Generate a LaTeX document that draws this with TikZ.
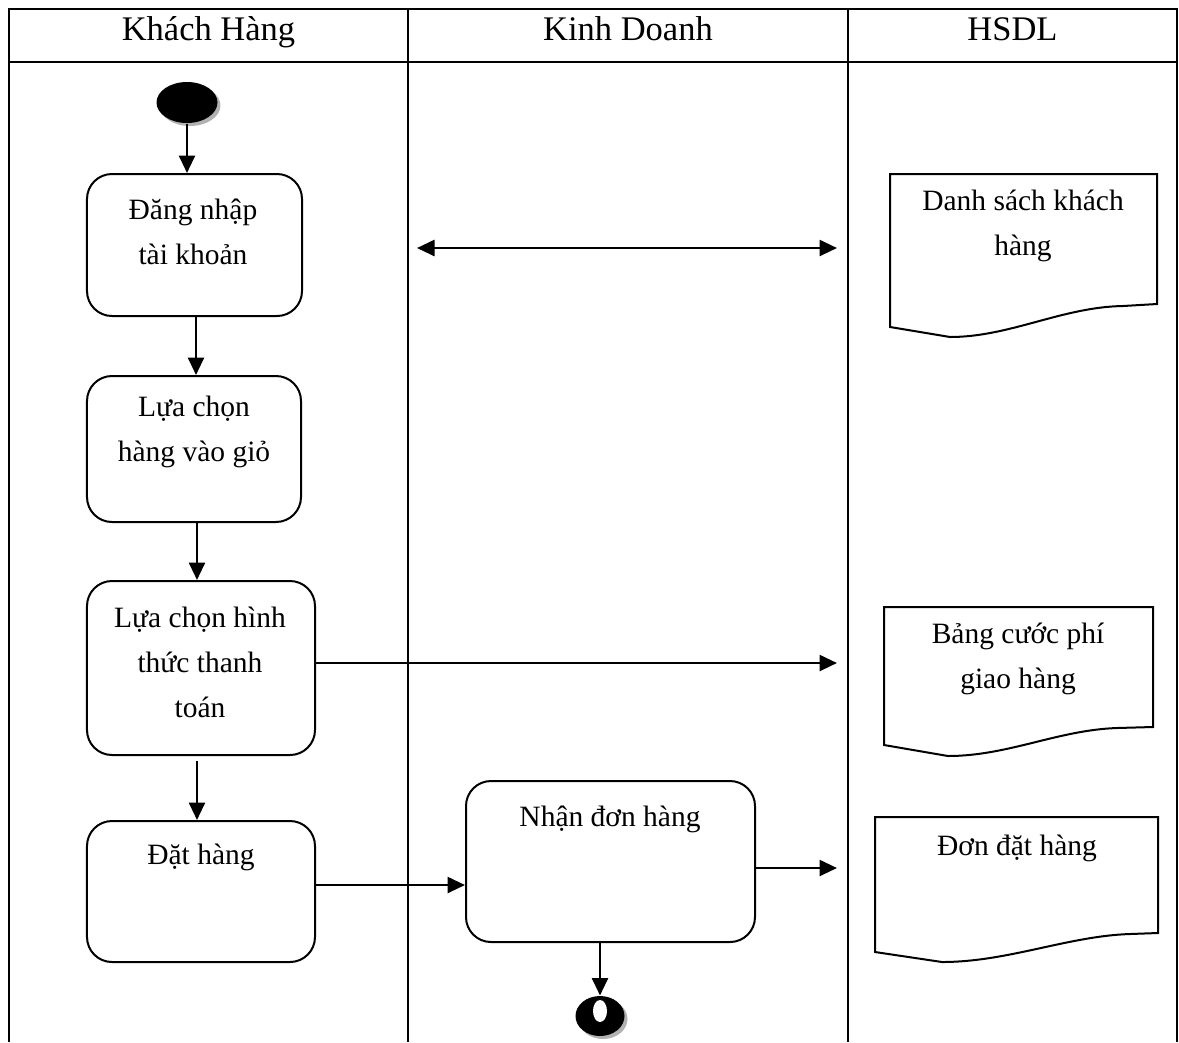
\documentclass[tikz,border=0pt]{standalone}
\usepackage{fontspec}
\setmainfont{Liberation Serif}
\usepackage{tikz}
\usetikzlibrary{arrows.meta, shapes.geometric, shadows}
\newcommand{\bodyfont}{\fontsize{11.8}{18}\selectfont}
\newcommand{\lanefont}{\fontsize{13.8}{16}\selectfont}

\begin{document}
\begin{tikzpicture}[
    x=0.4pt, y=-0.4pt,
    lane/.style={line width=0.8pt},
    head/.style={font=\lanefont, inner sep=0pt, text height=9.6pt, text depth=2.8pt},
    act/.style={draw, line width=0.8pt, rounded corners=10pt, inner sep=0pt},
    txt/.style={font=\bodyfont, align=center, inner sep=0pt},
    doc/.style={draw, line width=0.8pt},
    dot/.style={ellipse, fill=black, inner sep=0pt, drop shadow={shadow xshift=1.2pt, shadow yshift=-1.2pt, fill=black!30, opacity=1}},
    arr/.style={-{Triangle[length=7pt, width=6.4pt]}, line width=1pt}
]
    \useasboundingbox (0,0) rectangle (1179,1042);

    % swimlanes
    \draw[lane] (9,1042) -- (9,9) -- (1177,9) -- (1177,1042);
    \draw[lane] (9,62) -- (1177,62);
    \draw[lane] (408,9) -- (408,1042);
    \draw[lane] (848,9) -- (848,1042);
    \node[head] (khachhang) at (208.5,32) {Khách Hàng};
    \node[head] (kinhdoanh) at (628,32) {Kinh Doanh};
    \node[head] (hsdl) at (1012.5,32) {HSDL};

    % start / end
    \node[dot, minimum width=24.4pt, minimum height=16.4pt] (start) at (187,102.5) {};
    \node[dot, minimum width=19.6pt, minimum height=16pt] (end) at (600,1016) {};
    \node[ellipse, fill=white, inner sep=0pt, minimum width=5.6pt, minimum height=8.8pt] (endin) at (600,1011) {};

    % activities
    \node[act, minimum width=86pt, minimum height=56.8pt] (dangnhap) at (194.5,245) {};
    \node[txt] (dangnhap-t) at (193,232) {Đăng nhập\\tài khoản};
    \node[act, minimum width=85.6pt, minimum height=58.4pt] (chonhang) at (194,449) {};
    \node[txt] (chonhang-t) at (194,432) {Lựa chọn\\hàng vào giỏ};
    \node[act, minimum width=91.2pt, minimum height=69.6pt] (thanhtoan) at (201,668) {};
    \node[txt] (thanhtoan-t) at (200,662) {Lựa chọn hình\\thức thanh\\toán};
    \node[act, minimum width=91.2pt, minimum height=56.4pt] (dathang) at (201,891.5) {};
    \node[txt] (dathang-t) at (201,857) {Đặt hàng};
    \node[act, minimum width=115.6pt, minimum height=64.4pt] (nhandon) at (610.5,861.5) {};
    \node[txt] (nhandon-t) at (610,819) {Nhận đơn hàng};

    % data stores
    \draw[doc] (890,174) -- (1157,174) -- (1157,304) -- (1123,306) .. controls (1062,307) and (1010,337) .. (950,337) -- (890,327) -- cycle;
    \node[txt] (dskh) at (1023,226) {Danh sách khách\\hàng};
    \draw[doc] (884,607) -- (1153,607) -- (1153,727) -- (1117,728) .. controls (1058,730) and (1008,756) .. (948,756) -- (884,745) -- cycle;
    \node[txt] (cuocphi) at (1018,659) {Bảng cước phí\\giao hàng};
    \draw[doc] (875,817) -- (1158,817) -- (1158,933) -- (1130,934) .. controls (1068,936) and (1008,962) .. (942,962) -- (875,952) -- cycle;
    \node[txt] (dondat) at (1017,848) {Đơn đặt hàng};

    \coordinate (l1) at (417,248);
    \coordinate (r1) at (837,248);
    \coordinate (r2) at (837,663);
    \coordinate (r3) at (837,868);

    % flows
    \draw[arr] (start) -- (start |- dangnhap.north);
    \draw[arr] (dangnhap.south -| 196,0) -- (chonhang.north -| 196,0);
    \draw[arr] (chonhang.south -| 197,0) -- (thanhtoan.north -| 197,0);
    \draw[arr, shorten <=2pt] (thanhtoan.south -| 197,0) -- (dathang.north -| 197,0);
    \draw[arr] (dathang.east |- 0,885) -- (nhandon.west |- 0,885);
    \draw[arr] (nhandon.east |- r3) -- (r3);
    \draw[arr] (nhandon.south -| end) -- (end);
    \draw[arr] (thanhtoan.east |- r2) -- (r2);
    \draw[{Triangle[length=7pt, width=6.4pt]}-{Triangle[length=7pt, width=6.4pt]}, line width=1pt] (l1) -- (r1);
\end{tikzpicture}
\end{document}
